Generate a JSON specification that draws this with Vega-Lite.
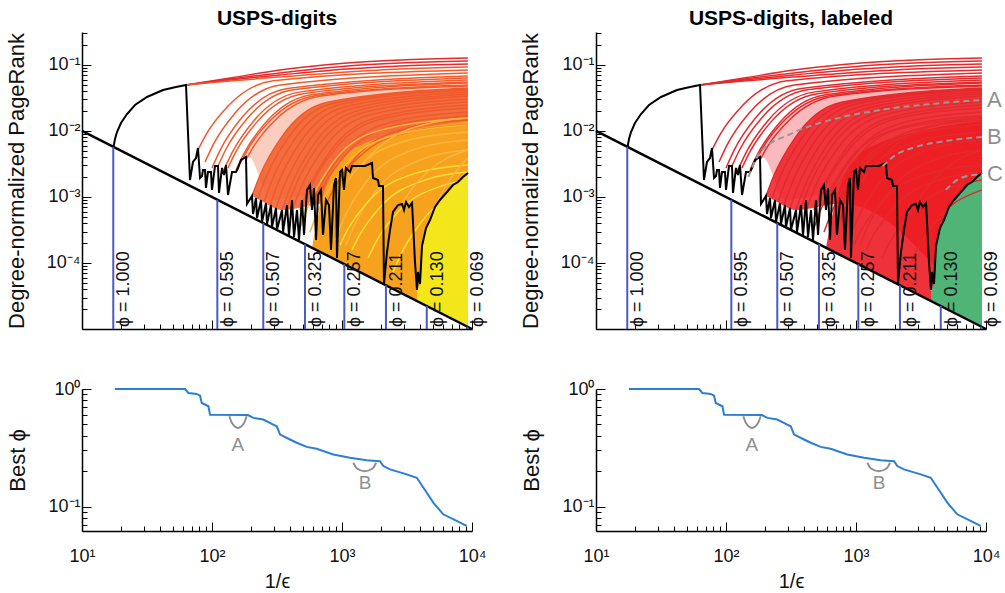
{
 "$schema": "https://vega.github.io/schema/vega-lite/v6.json",
 "background": "white",
 "padding": {"left": 5, "top": 8, "right": 5, "bottom": 5},
 "datasets": {
  "black": [{"x":17.47,"y":0.00572},{"x":17.94,"y":0.00756},{"x":18.59,"y":0.00966},{"x":19.95,"y":0.01322},{"x":22.19,"y":0.01809},{"x":25.57,"y":0.02477},{"x":31.62,"y":0.03275},{"x":42.0,"y":0.0418},{"x":52.86,"y":0.0464},{"x":63.1,"y":0.0498},{"x":67.7,"y":0.001809},{"x":71.4,"y":0.00339},{"x":75.3,"y":0.0039},{"x":78.0,"y":0.00553},{"x":80.9,"y":0.00194},{"x":83.8,"y":0.00208},{"x":85.3,"y":0.00257},{"x":88.4,"y":0.00257},{"x":89.9,"y":0.001369},{"x":93.1,"y":0.00239},{"x":98.2,"y":0.00239},{"x":100,"y":0.001277},{"x":105.5,"y":0.00295},{"x":111.2,"y":0.00295},{"x":113.2,"y":0.00115},{"x":119.4,"y":0.00275},{"x":123.7,"y":0.00215},{"x":128.2,"y":0.00305},{"x":132.8,"y":0.001072},{"x":142.5,"y":0.00239},{"x":153.0,"y":0.00239},{"x":158.5,"y":0.00275},{"x":167.2,"y":0.00364},{"x":182.6,"y":0.00404},{"x":185.8,"y":0.000783},{"x":203.1,"y":0.001036},{"x":206.8,"y":0.000553},{"x":218.1,"y":0.000966},{"x":221.9,"y":0.000481},{"x":238.2,"y":0.000901},{"x":242.5,"y":0.000418},{"x":260.3,"y":0.000811},{"x":264.9,"y":0.00039},{"x":284.3,"y":0.000756},{"x":289.4,"y":0.00035},{"x":310.7,"y":0.000681},{"x":316.2,"y":0.00032},{"x":345.6,"y":0.000635},{"x":351.7,"y":0.000295},{"x":377.6,"y":0.000756},{"x":391.1,"y":0.000257},{"x":412.5,"y":0.000901},{"x":427.4,"y":0.000248},{"x":450.6,"y":0.000635},{"x":467.0,"y":0.000223},{"x":492.4,"y":0.000901},{"x":510.3,"y":0.000266},{"x":538.1,"y":0.001277},{"x":567.3,"y":0.00152},{"x":587.8,"y":0.000635},{"x":609.2,"y":0.001369},{"x":631.0,"y":0.000223},{"x":653.8,"y":0.001072},{"x":689.4,"y":0.001277},{"x":714.2,"y":0.000266},{"x":753.3,"y":0.000901},{"x":794.3,"y":0.000756},{"x":823.0,"y":0.0001574},{"x":867.9,"y":0.00152},{"x":898.8,"y":0.00194},{"x":915.0,"y":0.000119},{"x":965.1,"y":0.00239},{"x":1000,"y":0.00257},{"x":1036,"y":0.001277},{"x":1073,"y":0.00275},{"x":1152,"y":0.00239},{"x":1194,"y":0.00295},{"x":1503,"y":0.00295},{"x":1701,"y":0.00327},{"x":1732,"y":0.00194},{"x":1892,"y":0.001809},{"x":1925,"y":0.001468},{"x":2067,"y":0.001468},{"x":2104,"y":0.0000481},{"x":2219,"y":0.0001468},{"x":2340,"y":0.000316},{"x":2468,"y":0.000593},{"x":2697,"y":0.000756},{"x":2894,"y":0.000783},{"x":2999,"y":0.000635},{"x":3107,"y":0.00084},{"x":3277,"y":0.000705},{"x":3456,"y":0.000811},{"x":3517,"y":0.000418},{"x":3643,"y":0.0001036},{"x":3775,"y":0.000039},{"x":3842,"y":0.0000731},{"x":3981,"y":0.0000481},{"x":4125,"y":0.0001809},{"x":4429,"y":0.000339},{"x":4753,"y":0.000448},{"x":5193,"y":0.000705},{"x":5672,"y":0.000901},{"x":6423,"y":0.00119},{"x":7142,"y":0.00152},{"x":7804,"y":0.001688},{"x":8528,"y":0.00201},{"x":9316,"y":0.00231}],
  "curves": [
   {"c":"T1","g":"r","h":"r","x":63.1,"y":0.0498},{"c":"T1","g":"r","h":"r","x":137.5,"y":0.0635},{"c":"T1","g":"r","h":"r","x":333.6,"y":0.084},{"c":"T1","g":"r","h":"r","x":1093,"y":0.1072},{"c":"T1","g":"r","h":"r","x":2794,"y":0.119},{"c":"T1","g":"r","h":"r","x":9300,"y":0.1277},
   {"c":"T2","g":"r","h":"r","x":63.1,"y":0.0498},{"c":"T2","g":"r","h":"r","x":137.5,"y":0.0614},{"c":"T2","g":"r","h":"r","x":333.6,"y":0.0756},{"c":"T2","g":"r","h":"r","x":1093,"y":0.0966},{"c":"T2","g":"r","h":"r","x":2794,"y":0.1072},{"c":"T2","g":"r","h":"r","x":9300,"y":0.115},
   {"c":"T3","g":"r","h":"r","x":63.1,"y":0.0498},{"c":"T3","g":"r","h":"r","x":137.5,"y":0.0593},{"c":"T3","g":"r","h":"r","x":333.6,"y":0.0706},{"c":"T3","g":"r","h":"r","x":1093,"y":0.087},{"c":"T3","g":"r","h":"r","x":2794,"y":0.0966},{"c":"T3","g":"r","h":"r","x":9300,"y":0.1035},
   {"c":"T4","g":"o","h":"r","x":63.1,"y":0.0498},{"c":"T4","g":"o","h":"r","x":137.5,"y":0.0572},{"c":"T4","g":"o","h":"r","x":333.6,"y":0.0658},{"c":"T4","g":"o","h":"r","x":1093,"y":0.0783},{"c":"T4","g":"o","h":"r","x":2794,"y":0.087},{"c":"T4","g":"o","h":"r","x":9300,"y":0.0933},
   {"c":"C1","g":"o","h":"r","x":78,"y":0.00515},{"c":"C1","g":"o","h":"r","x":89.5,"y":0.00868},{"c":"C1","g":"o","h":"r","x":132.4,"y":0.02378},{"c":"C1","g":"o","h":"r","x":296.6,"y":0.0576},{"c":"C1","g":"o","h":"r","x":9300,"y":0.084},
   {"c":"C2","g":"o","h":"r","x":88.4,"y":0.00339},{"c":"C2","g":"o","h":"r","x":101.5,"y":0.00606},{"c":"C2","g":"o","h":"r","x":150.1,"y":0.0186},{"c":"C2","g":"o","h":"r","x":336.1,"y":0.0498},{"c":"C2","g":"o","h":"r","x":9300,"y":0.0756},
   {"c":"C3","g":"o","h":"r","x":100,"y":0.00275},{"c":"C3","g":"o","h":"r","x":114.8,"y":0.00501},{"c":"C3","g":"o","h":"r","x":169.8,"y":0.01596},{"c":"C3","g":"o","h":"r","x":380.2,"y":0.0441},{"c":"C3","g":"o","h":"r","x":9300,"y":0.0681},
   {"c":"C4","g":"o","h":"r","x":111.2,"y":0.00295},{"c":"C4","g":"o","h":"r","x":127.7,"y":0.00524},{"c":"C4","g":"o","h":"r","x":188.8,"y":0.01586},{"c":"C4","g":"o","h":"r","x":422.8,"y":0.042},{"c":"C4","g":"o","h":"r","x":9300,"y":0.0635},
   {"c":"C5","g":"o","h":"r","x":123.7,"y":0.00257},{"c":"C5","g":"o","h":"r","x":142,"y":0.00461},{"c":"C5","g":"o","h":"r","x":210,"y":0.01434},{"c":"C5","g":"o","h":"r","x":470.3,"y":0.0388},{"c":"C5","g":"o","h":"r","x":9300,"y":0.0593},
   {"c":"C6","g":"o","h":"r","x":132.8,"y":0.00275},{"c":"C6","g":"o","h":"r","x":152.5,"y":0.00482},{"c":"C6","g":"o","h":"r","x":225.5,"y":0.01423},{"c":"C6","g":"o","h":"r","x":504.9,"y":0.0368},{"c":"C6","g":"o","h":"r","x":9300,"y":0.0553},
   {"c":"C7","g":"o","h":"r","x":153,"y":0.00257},{"c":"C7","g":"o","h":"r","x":175.6,"y":0.00452},{"c":"C7","g":"o","h":"r","x":259.8,"y":0.01353},{"c":"C7","g":"o","h":"r","x":581.7,"y":0.0354},{"c":"C7","g":"o","h":"r","x":9300,"y":0.0534},
   {"c":"C8","g":"o","h":"r","x":167.2,"y":0.00339},{"c":"C8","g":"o","h":"r","x":191.9,"y":0.0056},{"c":"C8","g":"o","h":"r","x":283.9,"y":0.01478},{"c":"C8","g":"o","h":"r","x":635.7,"y":0.0346},{"c":"C8","g":"o","h":"r","x":9300,"y":0.0498},
   {"c":"C9","g":"o","h":"r","x":182.6,"y":0.00364},{"c":"C9","g":"o","h":"r","x":209.6,"y":0.00589},{"c":"C9","g":"o","h":"r","x":310.1,"y":0.01497},{"c":"C9","g":"o","h":"r","x":694.2,"y":0.0339},{"c":"C9","g":"o","h":"r","x":9300,"y":0.0481},
   {"c":"C10","g":"o","h":"r","x":203.1,"y":0.001036},{"c":"C10","g":"o","h":"r","x":233.2,"y":0.0021},{"c":"C10","g":"o","h":"r","x":344.9,"y":0.00822},{"c":"C10","g":"o","h":"r","x":772.2,"y":0.02724},{"c":"C10","g":"o","h":"r","x":9300,"y":0.0449},
   {"c":"C11","g":"o","h":"r","x":225.9,"y":0.000966},{"c":"C11","g":"o","h":"r","x":259.3,"y":0.00197},{"c":"C11","g":"o","h":"r","x":383.6,"y":0.00782},{"c":"C11","g":"o","h":"r","x":858.9,"y":0.02623},{"c":"C11","g":"o","h":"r","x":9300,"y":0.0433},
   {"c":"C12","g":"o","h":"r","x":251.2,"y":0.00084},{"c":"C12","g":"o","h":"r","x":288.4,"y":0.00175},{"c":"C12","g":"o","h":"r","x":426.5,"y":0.00721},{"c":"C12","g":"o","h":"r","x":955.1,"y":0.025},{"c":"C12","g":"o","h":"r","x":9300,"y":0.0418},
   {"c":"C13","g":"o","h":"r","x":279.3,"y":0.000756},{"c":"C13","g":"o","h":"r","x":320.6,"y":0.00159},{"c":"C13","g":"o","h":"r","x":474.3,"y":0.00664},{"c":"C13","g":"o","h":"r","x":1062,"y":0.0233},{"c":"C13","g":"o","h":"r","x":9300,"y":0.039},
   {"c":"C14","g":"o","h":"r","x":310.7,"y":0.000681},{"c":"C14","g":"o","h":"r","x":356.7,"y":0.00144},{"c":"C14","g":"o","h":"r","x":527.6,"y":0.00611},{"c":"C14","g":"o","h":"r","x":1181,"y":0.02172},{"c":"C14","g":"o","h":"r","x":9300,"y":0.0364},
   {"c":"C15","g":"o","h":"r","x":345.6,"y":0.000635},{"c":"C15","g":"o","h":"r","x":396.7,"y":0.001344},{"c":"C15","g":"o","h":"r","x":586.8,"y":0.00571},{"c":"C15","g":"o","h":"r","x":1314,"y":0.0203},{"c":"C15","g":"o","h":"r","x":9300,"y":0.0339},
   {"c":"C16","g":"o","h":"g","x":384.2,"y":0.000756},{"c":"C16","g":"o","h":"g","x":441.1,"y":0.00152},{"c":"C16","g":"o","h":"g","x":652.4,"y":0.00584},{"c":"C16","g":"o","h":"g","x":1461,"y":0.01905},{"c":"C16","g":"o","h":"g","x":9300,"y":0.0305},
   {"c":"C17","g":"o","h":"r","x":427.4,"y":0.000756},{"c":"C17","g":"o","h":"r","x":490.7,"y":0.00149},{"c":"C17","g":"o","h":"r","x":725.7,"y":0.00553},{"c":"C17","g":"o","h":"r","x":1625,"y":0.01745},{"c":"C17","g":"o","h":"r","x":9300,"y":0.0275},
   {"c":"C18","g":"o","h":"r","x":475.3,"y":0.000635},{"c":"C18","g":"o","h":"r","x":545.6,"y":0.00127},{"c":"C18","g":"o","h":"r","x":807.1,"y":0.00484},{"c":"C18","g":"o","h":"r","x":1807,"y":0.01568},{"c":"C18","g":"o","h":"r","x":9300,"y":0.0248},
   {"c":"C19","g":"o","h":"g","x":528.6,"y":0.000966},{"c":"C19","g":"o","h":"g","x":606.8,"y":0.00175},{"c":"C19","g":"o","h":"g","x":897.6,"y":0.00553},{"c":"C19","g":"o","h":"g","x":2010,"y":0.01514},{"c":"C19","g":"o","h":"g","x":9300,"y":0.0223},
   {"c":"C20","g":"o","h":"r","x":587.8,"y":0.000756},{"c":"C20","g":"o","h":"r","x":674.8,"y":0.0014},{"c":"C20","g":"o","h":"r","x":998.1,"y":0.00461},{"c":"C20","g":"o","h":"r","x":2235,"y":0.0131},{"c":"C20","g":"o","h":"r","x":9300,"y":0.0194},
   {"c":"C21","g":"o","h":"r","x":653.8,"y":0.000966},{"c":"C21","g":"o","h":"r","x":750.6,"y":0.001665},{"c":"C21","g":"o","h":"r","x":1110,"y":0.00477},{"c":"C21","g":"o","h":"r","x":2486,"y":0.012},{"c":"C21","g":"o","h":"r","x":9300,"y":0.0169},
   {"c":"C22","g":"o","h":"g","x":753.3,"y":0.000756},{"c":"C22","g":"o","h":"g","x":864.8,"y":0.001335},{"c":"C22","g":"o","h":"g","x":1279,"y":0.004},{"c":"C22","g":"o","h":"g","x":2864,"y":0.01046},{"c":"C22","g":"o","h":"g","x":9300,"y":0.0147},
   {"c":"C23","g":"o","h":"r","x":898.8,"y":0.00152},{"c":"C23","g":"o","h":"r","x":1032,"y":0.002276},{"c":"C23","g":"o","h":"r","x":1526,"y":0.00496},{"c":"C23","g":"o","h":"r","x":3417,"y":0.00983},{"c":"C23","g":"o","h":"r","x":9300,"y":0.0123},
   {"c":"C24","g":"p","h":"r","x":475.3,"y":0.000339},{"c":"C24","g":"p","h":"r","x":545.6,"y":0.000701},{"c":"C24","g":"p","h":"r","x":807.1,"y":0.002846},{"c":"C24","g":"p","h":"r","x":1807,"y":0.00975},{"c":"C24","g":"p","h":"r","x":9300,"y":0.0157},
   {"c":"C25","g":"p","h":"g","x":567.3,"y":0.000295},{"c":"C25","g":"p","h":"g","x":651.3,"y":0.000599},{"c":"C25","g":"p","h":"g","x":963.3,"y":0.002354},{"c":"C25","g":"p","h":"g","x":2157,"y":0.00783},{"c":"C25","g":"p","h":"g","x":9300,"y":0.0123},
   {"c":"C26","g":"p","h":"r","x":701.8,"y":0.000316},{"c":"C26","g":"p","h":"r","x":805.7,"y":0.000608},{"c":"C26","g":"p","h":"r","x":1192,"y":0.002143},{"c":"C26","g":"p","h":"r","x":2668,"y":0.00648},{"c":"C26","g":"p","h":"r","x":9300,"y":0.00966},
   {"c":"C27","g":"p","h":"g","x":883.4,"y":0.000223},{"c":"C27","g":"p","h":"g","x":1014,"y":0.000437},{"c":"C27","g":"p","h":"g","x":1500,"y":0.0016},{"c":"C27","g":"p","h":"g","x":3359,"y":0.005},{"c":"C27","g":"p","h":"g","x":9300,"y":0.00731},
   {"c":"C28","g":"p","h":"r","x":1073,"y":0.000187},{"c":"C28","g":"p","h":"r","x":1232,"y":0.000357},{"c":"C28","g":"p","h":"r","x":1822,"y":0.00124},{"c":"C28","g":"p","h":"r","x":4080,"y":0.0037},{"c":"C28","g":"p","h":"r","x":9300,"y":0.00516},
   {"c":"C29","g":"p","h":"g","x":1376,"y":0.00275},{"c":"C29","g":"p","h":"g","x":1580,"y":0.00389},{"c":"C29","g":"p","h":"g","x":2336,"y":0.00758},{"c":"C29","g":"p","h":"g","x":5232,"y":0.01362},{"c":"C29","g":"p","h":"g","x":9300,"y":0.0157},
   {"c":"C30","g":"y","h":"g","x":965,"y":0.000187},{"c":"C30","g":"y","h":"g","x":1108,"y":0.000322},{"c":"C30","g":"y","h":"g","x":1639,"y":0.000912},{"c":"C30","g":"y","h":"g","x":3669,"y":0.00228},{"c":"C30","g":"y","h":"g","x":9300,"y":0.00305},
   {"c":"C31","g":"y","h":"g","x":1194,"y":0.000157},{"c":"C31","g":"y","h":"g","x":1371,"y":0.000268},{"c":"C31","g":"y","h":"g","x":2027,"y":0.000751},{"c":"C31","g":"y","h":"g","x":4540,"y":0.001856},{"c":"C31","g":"y","h":"g","x":9300,"y":0.00239},
   {"c":"C32","g":"y","h":"g","x":1585,"y":0.000119},{"c":"C32","g":"y","h":"g","x":1820,"y":0.000206},{"c":"C32","g":"y","h":"g","x":2691,"y":0.000593},{"c":"C32","g":"y","h":"g","x":6026,"y":0.0015},{"c":"C32","g":"y","h":"g","x":9300,"y":0.00181},
   {"c":"C33","g":"y","h":"g","x":2424,"y":0.0000658},{"c":"C33","g":"y","h":"g","x":2783,"y":0.000125},{"c":"C33","g":"y","h":"g","x":4116,"y":0.000429},{"c":"C33","g":"y","h":"g","x":9300,"y":0.00128},
   {"c":"C34","g":"p","h":"g","x":2894,"y":0.000783},{"c":"C34","g":"p","h":"g","x":3322,"y":0.0012},{"c":"C34","g":"p","h":"g","x":4914,"y":0.00273},{"c":"C34","g":"p","h":"g","x":9300,"y":0.00516},
   {"c":"C35","g":"p","h":"r","x":5193,"y":0.000705},{"c":"C35","g":"p","h":"r","x":5962,"y":0.00122},{"c":"C35","g":"p","h":"r","x":8818,"y":0.00352},{"c":"C35","g":"p","h":"r","x":9300,"y":0.0039}
  ],
  "fills": [
   {"f":"R0","x":167.2,"y":0.00339,"y2":0.00339},{"f":"R0","x":191.9,"y":0.0056,"y2":0.004},{"f":"R0","x":283.9,"y":0.01478,"y2":0.0009},{"f":"R0","x":635.7,"y":0.0346,"y2":0.0011},{"f":"R0","x":9300,"y":0.0498,"y2":0.00001075},
   {"f":"R1","x":203.1,"y":0.001036,"y2":0.001036},{"f":"R1","x":233.2,"y":0.0021,"y2":0.0009},{"f":"R1","x":344.9,"y":0.00822,"y2":0.000635},{"f":"R1","x":772.2,"y":0.02724,"y2":0.0008},{"f":"R1","x":9300,"y":0.0449,"y2":0.00001075},
   {"f":"R2","x":587.8,"y":0.00017,"y2":0.00017},{"f":"R2","x":701.8,"y":0.0009,"y2":0.0001425},{"f":"R2","x":837.7,"y":0.00239,"y2":0.0001194},{"f":"R2","x":1055,"y":0.00433,"y2":0.0000948},{"f":"R2","x":1503,"y":0.00658,"y2":0.0000665},{"f":"R2","x":2340,"y":0.0087,"y2":0.0000427},{"f":"R2","x":3981,"y":0.0111,"y2":0.0000251},{"f":"R2","x":9300,"y":0.01417,"y2":0.00001075},
   {"f":"R3","x":3775,"y":0.000039,"y2":0.0000265},{"f":"R3","x":3981,"y":0.0000481,"y2":0.0000251},{"f":"R3","x":4125,"y":0.000181,"y2":0.0000242},{"f":"R3","x":4429,"y":0.000339,"y2":0.0000226},{"f":"R3","x":4753,"y":0.000448,"y2":0.000021},{"f":"R3","x":5193,"y":0.000705,"y2":0.0000193},{"f":"R3","x":5672,"y":0.000901,"y2":0.0000176},{"f":"R3","x":6423,"y":0.00119,"y2":0.0000156},{"f":"R3","x":7142,"y":0.00152,"y2":0.000014},{"f":"R3","x":7804,"y":0.00169,"y2":0.0000128},{"f":"R3","x":8528,"y":0.00201,"y2":0.0000117},{"f":"R3","x":9316,"y":0.00231,"y2":0.00001073}
  ],
  "diag": [{"x":10,"y":0.01},{"x":10000,"y":0.00001}],
  "phi": [
   {"x":17.4,"y":0.00001,"y2":0.00575,"lab":"ϕ = 1.000"},
   {"x":109.9,"y":0.00001,"y2":0.00091,"lab":"ϕ = 0.595"},
   {"x":248,"y":0.00001,"y2":0.000403,"lab":"ϕ = 0.507"},
   {"x":519,"y":0.00001,"y2":0.000193,"lab":"ϕ = 0.325"},
   {"x":1042,"y":0.00001,"y2":0.000096,"lab":"ϕ = 0.257"},
   {"x":2178,"y":0.00001,"y2":0.0000459,"lab":"ϕ = 0.211"},
   {"x":4487,"y":0.00001,"y2":0.0000223,"lab":"ϕ = 0.130"},
   {"x":9200,"y":0.00001,"y2":0.0000109,"lab":"ϕ = 0.069"}
  ],
  "abc": [
   {"k":"A","x":148.6,"y":0.00201},{"k":"A","x":183.9,"y":0.0048},{"k":"A","x":313.2,"y":0.009},{"k":"A","x":637.2,"y":0.01468},{"k":"A","x":1547,"y":0.0208},{"k":"A","x":3761,"y":0.02565},{"k":"A","x":9300,"y":0.0295},
   {"k":"B","x":1604,"y":0.00295},{"k":"B","x":2020,"y":0.00433},{"k":"B","x":2880,"y":0.00572},{"k":"B","x":4907,"y":0.00706},{"k":"B","x":9300,"y":0.00811},
   {"k":"C","x":4907,"y":0.00128},{"k":"C","x":6404,"y":0.00194},{"k":"C","x":9300,"y":0.00223}
  ],
  "abclab": [{"x":10000,"y":0.0295,"t":"A"},{"x":10000,"y":0.00811,"t":"B"},{"x":10000,"y":0.00223,"t":"C"}],
  "best": [{"x":17.9,"y":1},{"x":62,"y":1},{"x":65.8,"y":0.925},{"x":76.2,"y":0.908},{"x":80.9,"y":0.877},{"x":83.4,"y":0.76},{"x":93.8,"y":0.713},{"x":96.6,"y":0.605},{"x":189,"y":0.6},{"x":208,"y":0.568},{"x":248,"y":0.55},{"x":296,"y":0.498},{"x":315,"y":0.482},{"x":334,"y":0.41},{"x":398,"y":0.372},{"x":449,"y":0.349},{"x":535,"y":0.322},{"x":638,"y":0.31},{"x":857,"y":0.277},{"x":1153,"y":0.26},{"x":1549,"y":0.248},{"x":1960,"y":0.243},{"x":2080,"y":0.221},{"x":2340,"y":0.207},{"x":3150,"y":0.188},{"x":3760,"y":0.176},{"x":4490,"y":0.131},{"x":5040,"y":0.108},{"x":6010,"y":0.086},{"x":7620,"y":0.0755},{"x":9100,"y":0.0685}],
  "arcs": [
   {"k":"A","x":135.9,"y":0.586},{"k":"A","x":142.6,"y":0.513},{"k":"A","x":158.5,"y":0.467},{"k":"A","x":176.3,"y":0.513},{"k":"A","x":184.9,"y":0.586},
   {"k":"B","x":1222,"y":0.236},{"k":"B","x":1304,"y":0.211},{"k":"B","x":1496,"y":0.2},{"k":"B","x":1718,"y":0.211},{"k":"B","x":1828,"y":0.236}
  ],
  "arclab": [{"x":158,"y":0.337,"t":"A"},{"x":1503,"y":0.16,"t":"B"}]
 },
 "columns": 2,
 "spacing": {"row": 60, "column": 124},
 "bounds": "flush",
 "concat": [
  {
   "width": 390, "height": 297,
   "title": {"text": "USPS-digits"},
   "encoding": {
    "x": {"field": "x", "type": "quantitative", "scale": {"type": "log", "domain": [10, 10000], "nice": false},
          "axis": {"values": [10,20,30,40,50,60,70,80,90,100,200,300,400,500,600,700,800,900,1000,2000,3000,4000,5000,6000,7000,8000,9000,10000], "labels": false, "title": null,
                   "tickSize": {"condition": {"test": "indexof([10,100,1000,10000], datum.value) >= 0", "value": -9}, "value": -5}}},
    "y": {"field": "y", "type": "quantitative", "scale": {"type": "log", "domain": [0.00001, 0.316], "nice": false},
          "axis": {"values": [0.00001,0.00002,0.00003,0.00004,0.00005,0.00006,0.00007,0.00008,0.00009,0.0001,0.0002,0.0003,0.0004,0.0005,0.0006,0.0007,0.0008,0.0009,0.001,0.002,0.003,0.004,0.005,0.006,0.007,0.008,0.009,0.01,0.02,0.03,0.04,0.05,0.06,0.07,0.08,0.09,0.1,0.2,0.3],
                   "labelExpr": "datum.value === 0.1 ? '10⁻¹' : datum.value === 0.01 ? '10⁻²' : datum.value === 0.001 ? '10⁻³' : datum.value === 0.0001 ? '10⁻⁴' : ''",
                   "title": "Degree-normalized PageRank", "titlePadding": 18, "labelPadding": 11,
                   "tickSize": {"condition": {"test": "indexof([0.00001,0.0001,0.001,0.01,0.1], datum.value) >= 0", "value": -9}, "value": -5}}}
   },
   "layer": [
    {"data": {"name": "fills"}, "transform": [{"filter": "datum.f === 'R0'"}], "mark": {"type": "area", "interpolate": "monotone", "color": "#f05a28", "opacity": 0.3}, "encoding": {"y2": {"field": "y2"}}},
    {"data": {"name": "fills"}, "transform": [{"filter": "datum.f === 'R1'"}], "mark": {"type": "area", "interpolate": "monotone", "color": "#f05a28", "opacity": 0.85}, "encoding": {"y2": {"field": "y2"}}},
    {"data": {"name": "fills"}, "transform": [{"filter": "datum.f === 'R2'"}], "mark": {"type": "area", "interpolate": "monotone", "color": "#f7a21e"}, "encoding": {"y2": {"field": "y2"}}},
    {"data": {"name": "fills"}, "transform": [{"filter": "datum.f === 'R3'"}], "mark": {"type": "area", "interpolate": "linear", "color": "#f3e71c"}, "encoding": {"y2": {"field": "y2"}}},
    {"data": {"name": "curves"}, "mark": {"type": "line", "interpolate": "monotone", "strokeWidth": 1.5}, "encoding": {"detail": {"field": "c", "type": "nominal"}, "color": {"field": "g", "type": "nominal", "scale": {"domain": ["r","o","p","y"], "range": ["#e42a2c","#f15a2b","#fbb53c","#f4e130"]}, "legend": null}}},
    {"data": {"name": "black"}, "mark": {"type": "line", "color": "#000", "strokeWidth": 2}, "encoding": {}},
    {"data": {"name": "diag"}, "mark": {"type": "line", "color": "#000", "strokeWidth": 2.5}, "encoding": {}},
    {"data": {"name": "phi"}, "mark": {"type": "rule", "color": "#4a5bbd", "strokeWidth": 2}, "encoding": {"y2": {"field": "y2"}}},
    {"data": {"name": "phi"}, "mark": {"type": "text", "angle": 270, "align": "left", "baseline": "top", "dx": 2, "dy": 2, "fontSize": 18, "font": "Liberation Sans", "color": "#111"}, "encoding": {"text": {"field": "lab"}}}
   ]
  },
  {
   "width": 390, "height": 297,
   "title": {"text": "USPS-digits, labeled"},
   "encoding": {
    "x": {"field": "x", "type": "quantitative", "scale": {"type": "log", "domain": [10, 10000], "nice": false},
          "axis": {"values": [10,20,30,40,50,60,70,80,90,100,200,300,400,500,600,700,800,900,1000,2000,3000,4000,5000,6000,7000,8000,9000,10000], "labels": false, "title": null,
                   "tickSize": {"condition": {"test": "indexof([10,100,1000,10000], datum.value) >= 0", "value": -9}, "value": -5}}},
    "y": {"field": "y", "type": "quantitative", "scale": {"type": "log", "domain": [0.00001, 0.316], "nice": false},
          "axis": {"values": [0.00001,0.00002,0.00003,0.00004,0.00005,0.00006,0.00007,0.00008,0.00009,0.0001,0.0002,0.0003,0.0004,0.0005,0.0006,0.0007,0.0008,0.0009,0.001,0.002,0.003,0.004,0.005,0.006,0.007,0.008,0.009,0.01,0.02,0.03,0.04,0.05,0.06,0.07,0.08,0.09,0.1,0.2,0.3],
                   "labelExpr": "datum.value === 0.1 ? '10⁻¹' : datum.value === 0.01 ? '10⁻²' : datum.value === 0.001 ? '10⁻³' : datum.value === 0.0001 ? '10⁻⁴' : ''",
                   "title": "Degree-normalized PageRank", "titlePadding": 18, "labelPadding": 11,
                   "tickSize": {"condition": {"test": "indexof([0.00001,0.0001,0.001,0.01,0.1], datum.value) >= 0", "value": -9}, "value": -5}}}
   },
   "layer": [
    {"data": {"name": "fills"}, "transform": [{"filter": "datum.f === 'R0'"}], "mark": {"type": "area", "interpolate": "monotone", "color": "#ed1c24", "opacity": 0.3}, "encoding": {"y2": {"field": "y2"}}},
    {"data": {"name": "fills"}, "transform": [{"filter": "datum.f === 'R1'"}], "mark": {"type": "area", "interpolate": "monotone", "color": "#ed1c24", "opacity": 0.85}, "encoding": {"y2": {"field": "y2"}}},
    {"data": {"name": "fills"}, "transform": [{"filter": "datum.f === 'R2'"}], "mark": {"type": "area", "interpolate": "monotone", "color": "#ed1c24", "opacity": 0.9}, "encoding": {"y2": {"field": "y2"}}},
    {"data": {"name": "fills"}, "transform": [{"filter": "datum.f === 'R3'"}], "mark": {"type": "area", "interpolate": "linear", "color": "#50b477"}, "encoding": {"y2": {"field": "y2"}}},
    {"data": {"name": "curves"}, "mark": {"type": "line", "interpolate": "monotone", "strokeWidth": 1.5}, "encoding": {"detail": {"field": "c", "type": "nominal"}, "color": {"field": "h", "type": "nominal", "scale": {"domain": ["r","g"], "range": ["#ec1c24","#4cb070"]}, "legend": null}}},
    {"data": {"name": "black"}, "mark": {"type": "line", "color": "#000", "strokeWidth": 2}, "encoding": {}},
    {"data": {"name": "abc"}, "mark": {"type": "line", "interpolate": "monotone", "color": "#999999", "strokeWidth": 2, "strokeDash": [6, 4]}, "encoding": {"detail": {"field": "k", "type": "nominal"}}},
    {"data": {"name": "diag"}, "mark": {"type": "line", "color": "#000", "strokeWidth": 2.5}, "encoding": {}},
    {"data": {"name": "phi"}, "mark": {"type": "rule", "color": "#4a5bbd", "strokeWidth": 2}, "encoding": {"y2": {"field": "y2"}}},
    {"data": {"name": "phi"}, "mark": {"type": "text", "angle": 270, "align": "left", "baseline": "top", "dx": 2, "dy": 2, "fontSize": 18, "font": "Liberation Sans", "color": "#111"}, "encoding": {"text": {"field": "lab"}}},
    {"data": {"name": "abclab"}, "mark": {"type": "text", "align": "left", "baseline": "middle", "dx": 1, "fontSize": 22, "font": "Liberation Sans", "color": "#8f8f8f"}, "encoding": {"text": {"field": "t"}}}
   ]
  },
  {
   "width": 390, "height": 142,
   "encoding": {
    "x": {"field": "x", "type": "quantitative", "scale": {"type": "log", "domain": [10, 10000], "nice": false},
          "axis": {"values": [10,20,30,40,50,60,70,80,90,100,200,300,400,500,600,700,800,900,1000,2000,3000,4000,5000,6000,7000,8000,9000,10000],
                   "labelExpr": "datum.value === 10 ? '10¹' : datum.value === 100 ? '10²' : datum.value === 1000 ? '10³' : datum.value === 10000 ? '10⁴' : ''",
                   "title": "1/ϵ", "titleFontSize": 20, "titlePadding": 2, "labelPadding": 25,
                   "tickSize": {"condition": {"test": "indexof([10,100,1000,10000], datum.value) >= 0", "value": -9}, "value": -5}}},
    "y": {"field": "y", "type": "quantitative", "scale": {"type": "log", "domain": [0.062, 1], "nice": false},
          "axis": {"values": [0.07,0.08,0.09,0.1,0.2,0.3,0.4,0.5,0.6,0.7,0.8,0.9,1],
                   "labelExpr": "datum.value === 1 ? '10⁰' : datum.value === 0.1 ? '10⁻¹' : ''",
                   "title": "Best ϕ", "titlePadding": 18, "labelPadding": 11,
                   "tickSize": {"condition": {"test": "indexof([0.1,1], datum.value) >= 0", "value": -9}, "value": -5}}}
   },
   "layer": [
    {"data": {"name": "best"}, "mark": {"type": "line", "color": "#2a7fd4", "strokeWidth": 2}, "encoding": {}},
    {"data": {"name": "arcs"}, "mark": {"type": "line", "interpolate": "monotone", "color": "#8f8f8f", "strokeWidth": 2}, "encoding": {"detail": {"field": "k", "type": "nominal"}}},
    {"data": {"name": "arclab"}, "mark": {"type": "text", "fontSize": 19, "font": "Liberation Sans", "color": "#8f8f8f"}, "encoding": {"text": {"field": "t"}}}
   ]
  },
  {
   "width": 390, "height": 142,
   "encoding": {
    "x": {"field": "x", "type": "quantitative", "scale": {"type": "log", "domain": [10, 10000], "nice": false},
          "axis": {"values": [10,20,30,40,50,60,70,80,90,100,200,300,400,500,600,700,800,900,1000,2000,3000,4000,5000,6000,7000,8000,9000,10000],
                   "labelExpr": "datum.value === 10 ? '10¹' : datum.value === 100 ? '10²' : datum.value === 1000 ? '10³' : datum.value === 10000 ? '10⁴' : ''",
                   "title": "1/ϵ", "titleFontSize": 20, "titlePadding": 2, "labelPadding": 25,
                   "tickSize": {"condition": {"test": "indexof([10,100,1000,10000], datum.value) >= 0", "value": -9}, "value": -5}}},
    "y": {"field": "y", "type": "quantitative", "scale": {"type": "log", "domain": [0.062, 1], "nice": false},
          "axis": {"values": [0.07,0.08,0.09,0.1,0.2,0.3,0.4,0.5,0.6,0.7,0.8,0.9,1],
                   "labelExpr": "datum.value === 1 ? '10⁰' : datum.value === 0.1 ? '10⁻¹' : ''",
                   "title": "Best ϕ", "titlePadding": 18, "labelPadding": 11,
                   "tickSize": {"condition": {"test": "indexof([0.1,1], datum.value) >= 0", "value": -9}, "value": -5}}}
   },
   "layer": [
    {"data": {"name": "best"}, "mark": {"type": "line", "color": "#2a7fd4", "strokeWidth": 2}, "encoding": {}},
    {"data": {"name": "arcs"}, "mark": {"type": "line", "interpolate": "monotone", "color": "#8f8f8f", "strokeWidth": 2}, "encoding": {"detail": {"field": "k", "type": "nominal"}}},
    {"data": {"name": "arclab"}, "mark": {"type": "text", "fontSize": 19, "font": "Liberation Sans", "color": "#8f8f8f"}, "encoding": {"text": {"field": "t"}}}
   ]
  }
 ],
 "config": {
  "view": {"stroke": null},
  "font": "Liberation Sans",
  "axis": {"grid": false, "domainColor": "#000", "domainWidth": 1.5, "tickColor": "#000", "tickWidth": 1, "labelFont": "Liberation Sans", "labelFontSize": 18, "labelColor": "#111", "titleFont": "Liberation Sans", "titleFontWeight": "normal", "titleColor": "#111", "titleFontSize": 22, "labelFlush": false, "labelOverlap": false},
  "title": {"font": "Liberation Sans", "fontSize": 21, "fontWeight": "bold", "color": "#000", "offset": -5, "anchor": "middle"}
 }
}
